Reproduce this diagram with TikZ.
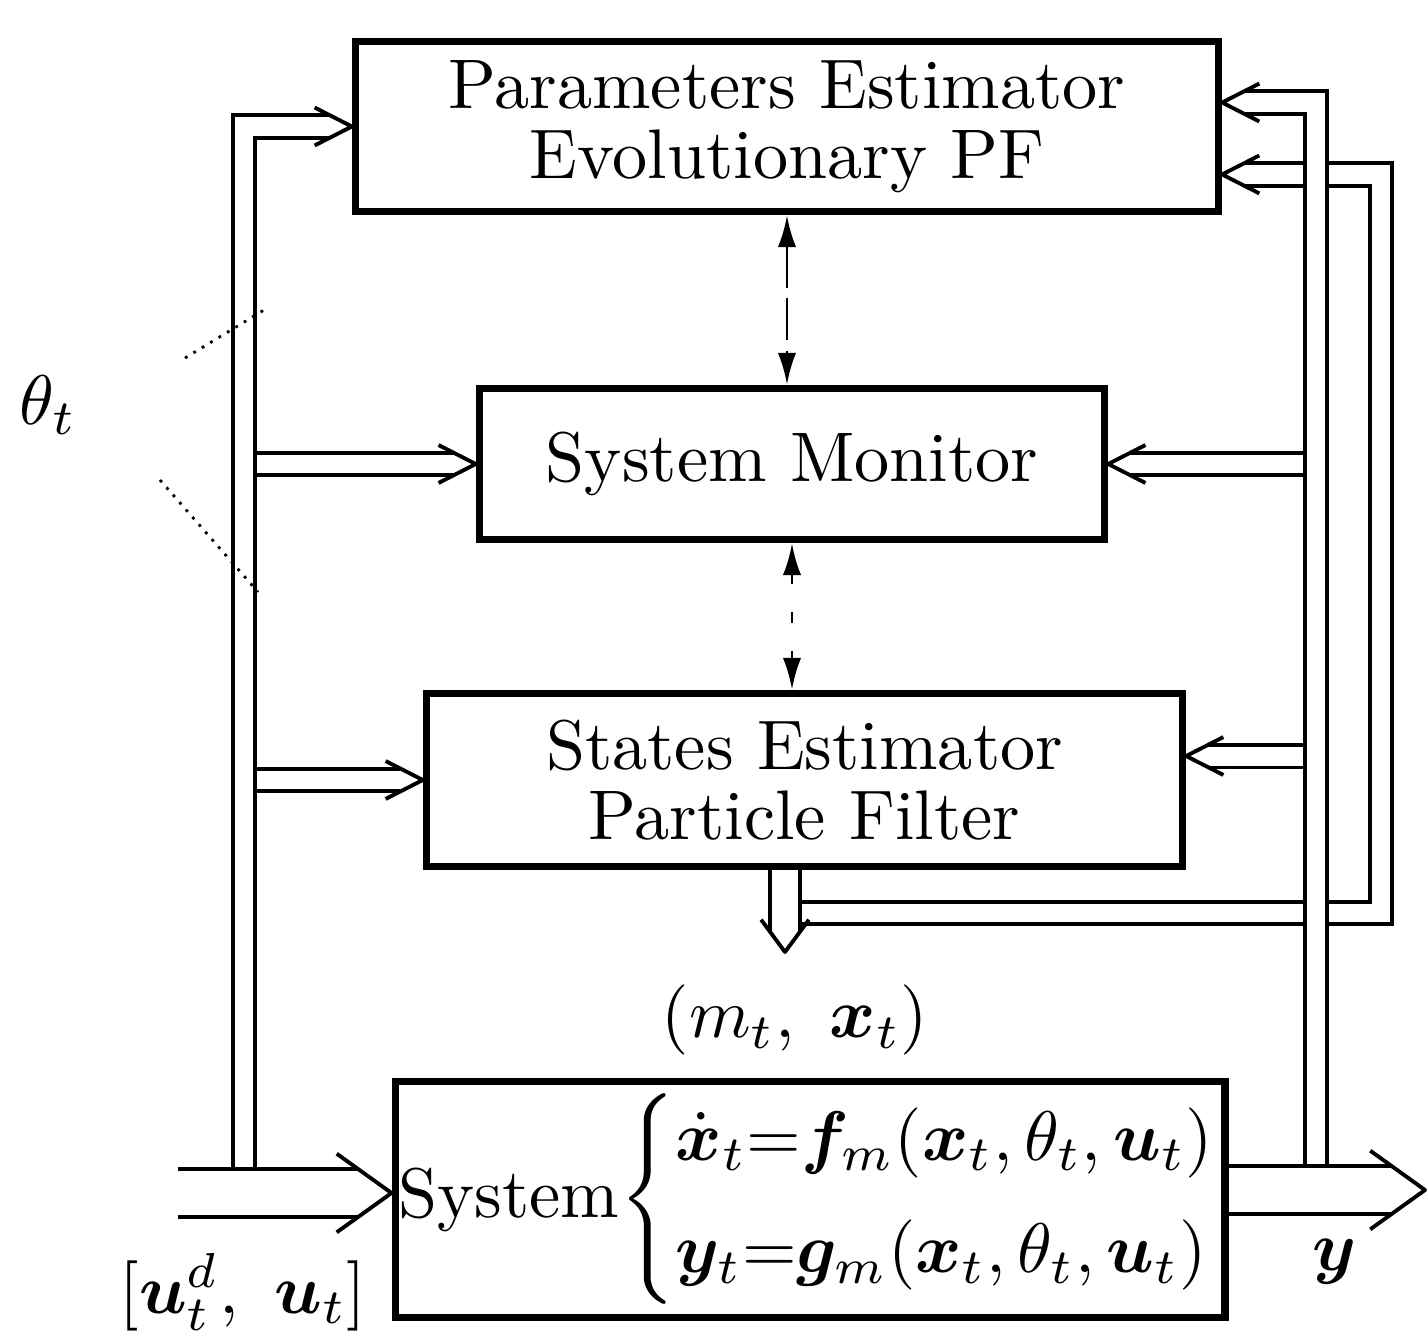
\documentclass[tikz,border=0pt]{standalone}
\usepackage{amsmath}
\usepackage{bm}
\usetikzlibrary{arrows.meta,decorations.markings}

\begin{document}
\begin{tikzpicture}[
  x=0.005cm, y=-0.005cm,
  blk/.style={draw, line width=1pt, align=center, inner sep=2pt},
  hollow/.style n args={4}{
    preaction={draw, double, line width=0.55pt, double distance=#1, shorten >=#4},
    postaction={decorate, decoration={markings, mark=at position 1 with
      {\draw[line width=0.55pt, line join=round] (-#3,#2) -- (0pt,0pt) -- (-#3,-#2);}}}},
  bus/.style={hollow={2.7pt}{2.7pt}{5.3pt}{3.2pt}},
  drop/.style={hollow={3.7pt}{3.4pt}{4.6pt}{2.9pt}},
  wide/.style={hollow={6.3pt}{5.6pt}{7.8pt}{4.8pt}},
  link/.style={thin, {Latex[length=4.5pt,width=2.6pt]}-{Latex[length=4.5pt,width=2.6pt]}},
  lbl/.style={inner sep=1pt},
]
\useasboundingbox (0,0) rectangle (1427,1331);
% blocks
\node[blk, minimum width=4.32cm, minimum height=0.855cm] (pe) at (787,126.5) {Parameters Estimator\\[-2pt]Evolutionary PF};
\node[blk, minimum width=3.13cm, minimum height=0.76cm] (mon) at (792,464) {System Monitor};
\node[blk, minimum width=3.785cm, minimum height=0.87cm] (se) at (804.5,780) {States Estimator\\[-2pt]Particle Filter};
\node[blk, minimum width=4.12cm, minimum height=1.185cm, inner sep=0.5pt] (sys) at (810,1199.5)
  {System$\left\{\begin{array}{@{}l@{}}\dot{\bm x}_t{=}\bm f_m(\bm x_t,\theta_t,\bm u_t)\\[4pt]\bm y_t{=}\bm g_m(\bm x_t,\theta_t,\bm u_t)\end{array}\right.$};
% bus ends
\coordinate (uin) at (178,1193);
\coordinate (yout) at (1425,1190);
\coordinate (lb) at (244,1193);
\coordinate (rb) at (1316,1190);
\coordinate (mt) at (785,952);
\coordinate (sr) at (1381,913);
\coordinate (pein1) at ([yshift=0.12cm]pe.east);
\coordinate (pein2) at ([yshift=-0.24cm]pe.east);
\coordinate (sein) at ([yshift=0.12cm]se.east);
% branches off the buses
\path[bus] (lb |- mon.west) -- (mon.west);
\path[bus] (lb |- se.west) -- (se.west);
\path[bus] (rb |- mon.east) -- (mon.east);
\path[bus] (rb |- sein) -- (sein);
% estimate fed back to the parameters estimator
\path[bus] (mt |- sr) -- (sr) |- (pein2);
% output and input buses
\path[bus] (rb) |- (pein1);
\path[bus] (lb) |- (pe.west);
\path[drop] (se.south -| mt) -- (mt);
\path[wide] (uin) -- (uin -| sys.west);
\path[wide] (sys.east |- yout) -- (yout);
% exchange between blocks
\draw[link, dash pattern=on 6pt off 1.5pt] (pe.south) -- (pe.south |- mon.north);
\draw[link, dash pattern=on 1.5pt off 4pt] (mon.south) -- (mon.south |- se.north);
% labels
\node[lbl] (theta) at (48,405) {$\theta_t$};
\coordinate (tu1) at (185,358);
\coordinate (tu2) at (264,310);
\coordinate (td1) at (160,480);
\coordinate (td2) at (258,592);
\draw[densely dotted] (tu1) -- (tu2);
\draw[densely dotted] (td1) -- (td2);
\node[lbl] (mx) at (795,1020) {$(m_t,\ \bm x_t)$};
\node[lbl] (ulbl) at (243,1292) {$[\bm u_t^d,\ \bm u_t]$};
\node[lbl] (ylbl) at (1335,1262) {$\bm y$};
\end{tikzpicture}
\end{document}
